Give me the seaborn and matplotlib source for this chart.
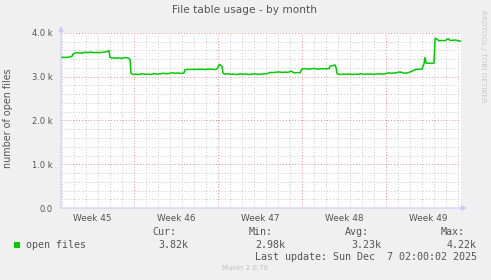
import numpy as np
import pandas as pd
import matplotlib
matplotlib.use("Agg")
import matplotlib.pyplot as plt
from matplotlib.ticker import MultipleLocator, FixedLocator, NullFormatter
import seaborn as sns

# ---- data (days since start of graph window, number of open files) ----
days = [0.00, 0.25, 0.50, 0.75, 0.92, 1.00, 1.25, 1.50, 1.75, 2.00, 2.25, 2.50, 2.75, 3.00,
        3.25, 3.50, 3.75, 3.92, 4.00, 4.08, 4.33, 4.58, 4.83, 5.08, 5.33, 5.58, 5.75, 5.83,
        6.00, 6.25, 6.50, 6.75, 7.00, 7.25, 7.50, 7.75, 8.00, 8.25, 8.50, 8.75, 9.00, 9.25,
        9.50, 9.75, 10.00, 10.25, 10.33, 10.58, 10.83, 11.08, 11.33, 11.58, 11.83, 12.08,
        12.33, 12.58, 12.83, 13.00, 13.17, 13.25, 13.42, 13.50, 13.67, 13.92, 14.17, 14.42,
        14.67, 14.92, 15.17, 15.42, 15.67, 15.92, 16.17, 16.42, 16.67, 16.92, 17.17, 17.42,
        17.67, 17.92, 18.17, 18.42, 18.67, 18.92, 19.17, 19.42, 19.67, 19.92, 20.08, 20.33,
        20.58, 20.83, 21.08, 21.33, 21.58, 21.83, 22.08, 22.33, 22.42, 22.67, 22.83, 22.92,
        23.00, 23.25, 23.50, 23.75, 24.00, 24.25, 24.50, 24.75, 25.00, 25.25, 25.50, 25.75,
        26.00, 26.25, 26.50, 26.75, 27.00, 27.25, 27.50, 27.75, 28.00, 28.25, 28.50, 28.75,
        29.00, 29.17, 29.42, 29.58, 29.83, 30.08, 30.25, 30.33, 30.42, 30.67, 30.92, 31.08,
        31.17, 31.33, 31.50, 31.75, 32.00, 32.25, 32.42, 32.67, 32.92, 33.08, 33.33]
open_files = [3450, 3440, 3445, 3450, 3470, 3520, 3550, 3545, 3540, 3560, 3550, 3565, 3550, 3555,
              3550, 3560, 3570, 3590, 3600, 3440, 3430, 3425, 3430, 3420, 3440, 3430, 3400, 3080,
              3050, 3060, 3050, 3070, 3055, 3060, 3050, 3075, 3060, 3065, 3080, 3070, 3075, 3090,
              3080, 3085, 3075, 3090, 3160, 3170, 3165, 3170, 3165, 3175, 3170, 3165,
              3180, 3170, 3165, 3180, 3270, 3280, 3230, 3080, 3060, 3070, 3055, 3060,
              3050, 3070, 3055, 3065, 3050, 3060, 3070, 3055, 3060, 3065, 3070, 3100,
              3095, 3105, 3110, 3100, 3105, 3100, 3130, 3090, 3095, 3090, 3180, 3185,
              3175, 3180, 3190, 3175, 3180, 3185, 3180, 3185, 3240, 3255, 3270, 3210,
              3070, 3050, 3060, 3055, 3065, 3050, 3060, 3055, 3070, 3055, 3060, 3065,
              3055, 3060, 3070, 3060, 3065, 3090, 3080, 3085, 3095, 3110, 3090, 3080,
              3100, 3120, 3150, 3170, 3170, 3175, 3300, 3440, 3310, 3310, 3305, 3310,
              3880, 3860, 3820, 3830, 3825, 3870, 3830, 3835, 3840, 3820, 3815]

week_starts = [6.083, 13.083, 20.083, 27.083]          # Monday boundaries
week_labels = ["Week 45", "Week 46", "Week 47", "Week 48", "Week 49"]
y_ticks = [0, 1000, 2000, 3000, 4000]
y_tick_labels = ["0.0", "1.0 k", "2.0 k", "3.0 k", "4.0 k"]
stat_names = ["Cur:", "Min:", "Avg:", "Max:"]
stat_values = ["3.82k", "2.98k", "3.23k", "4.22k"]

df = pd.DataFrame({"day": days, "open files": open_files})

sns.set_theme(style="white")
plt.rcParams["font.family"] = ["DejaVu Sans"]

W, H = 491, 280
fig = plt.figure(figsize=(W / 100, H / 100), dpi=100)
fig.patch.set_facecolor("#F0F0F0")

L, R, T, B = 61, 461, 33, 208
ax = fig.add_axes([L / W, 1 - B / H, (R - L) / W, (B - T) / H])
ax.set_facecolor("white")

x0, x1 = 0.0, 33.33
ax.set_xlim(x0, x1)
ax.set_ylim(0, 4000)

# grids
gray = "#C8C8C8"
red = "#F09090"
ax.xaxis.set_minor_locator(MultipleLocator(1.0, offset=week_starts[0] % 1.0))
ax.yaxis.set_minor_locator(MultipleLocator(200))
ax.xaxis.set_major_locator(FixedLocator(week_starts))
ax.yaxis.set_major_locator(FixedLocator(y_ticks))
ax.grid(which="minor", color=gray, linestyle=(0, (1, 2)), linewidth=0.7)
ax.grid(which="major", color=red, linestyle=(0, (1, 2)), linewidth=0.7)
ax.set_axisbelow(True)

sns.lineplot(data=df, x="day", y="open files", ax=ax, color="#00CC00",
             linewidth=1.1, legend=False, zorder=3)

ax.set_xlabel("")
ax.set_ylabel("")
ax.xaxis.set_major_formatter(NullFormatter())
ax.set_yticklabels(y_tick_labels)
ax.tick_params(axis="y", which="both", length=0, pad=6, labelsize=6.0, labelcolor="#555555")
ax.tick_params(axis="x", which="major", length=2, color=red, direction="out")
ax.tick_params(axis="x", which="minor", length=0)

for s in ax.spines.values():
    s.set_visible(False)

# axes lines with arrows
axis_col = "#C8C8FF"
astyle = "-|>,head_length=0.45,head_width=0.22"
ax.annotate("", xy=(x1 + 0.5, 0), xytext=(x0, 0), xycoords="data",
            arrowprops=dict(arrowstyle=astyle, color=axis_col, lw=0.8, mutation_scale=7,
                            shrinkA=0, shrinkB=0), annotation_clip=False, zorder=5)
ax.annotate("", xy=(x0, 4160), xytext=(x0, 0), xycoords="data",
            arrowprops=dict(arrowstyle=astyle, color=axis_col, lw=0.8, mutation_scale=7,
                            shrinkA=0, shrinkB=0), annotation_clip=False, zorder=5)

# week labels at week centers
centers = [week_starts[0] - 3.5] + [w + 3.5 for w in week_starts]
for c, lab in zip(centers, week_labels):
    ax.text(c, -130, lab, ha="center", va="top", fontsize=6.4, color="#555555")

# texts
txt = "#555555"
fig.text(245 / W, 1 - 10 / H, "File table usage - by month", ha="center", va="center",
         fontsize=7.6, color=txt)
fig.text(8 / W, 1 - 118 / H, "number of open files", ha="center", va="center",
         rotation=90, fontsize=6.9, color=txt)
fig.text(483 / W, 1 - 56 / H, "RRDTOOL / TOBI OETIKER", ha="center", va="center",
         rotation=270, fontsize=5.2, color="#C8C8C8")

mono = "DejaVu Sans Mono"
fig.patches.append(plt.Rectangle((14 / W, 1 - 248 / H), 6 / W, 6 / H, transform=fig.transFigure,
                                 facecolor="#00CC00", edgecolor="none"))
fig.text(26 / W, 1 - 245 / H, "open files", ha="left", va="center", family=mono,
         fontsize=7.2, color=txt)
name_x = [152.7, 249, 344.7, 440.7]
val_x = [158, 255, 351, 447]
for nx, vx, n, v in zip(name_x, val_x, stat_names, stat_values):
    fig.text(nx / W, 1 - 232.3 / H, n, ha="left", va="center", family=mono, fontsize=7.2, color=txt)
    fig.text(vx / W, 1 - 244.7 / H, v, ha="left", va="center", family=mono, fontsize=7.2, color=txt)
fig.text(476.7 / W, 1 - 256.7 / H, "Last update: Sun Dec  7 02:00:02 2025", ha="right",
         va="center", family=mono, fontsize=7.2, color=txt)
fig.text(245 / W, 1 - 268.3 / H, "Munin 2.0.76", ha="center", va="center", fontsize=5.0,
         color="#C0C0C0")

fig.savefig("out.png", dpi=100, facecolor=fig.get_facecolor())
